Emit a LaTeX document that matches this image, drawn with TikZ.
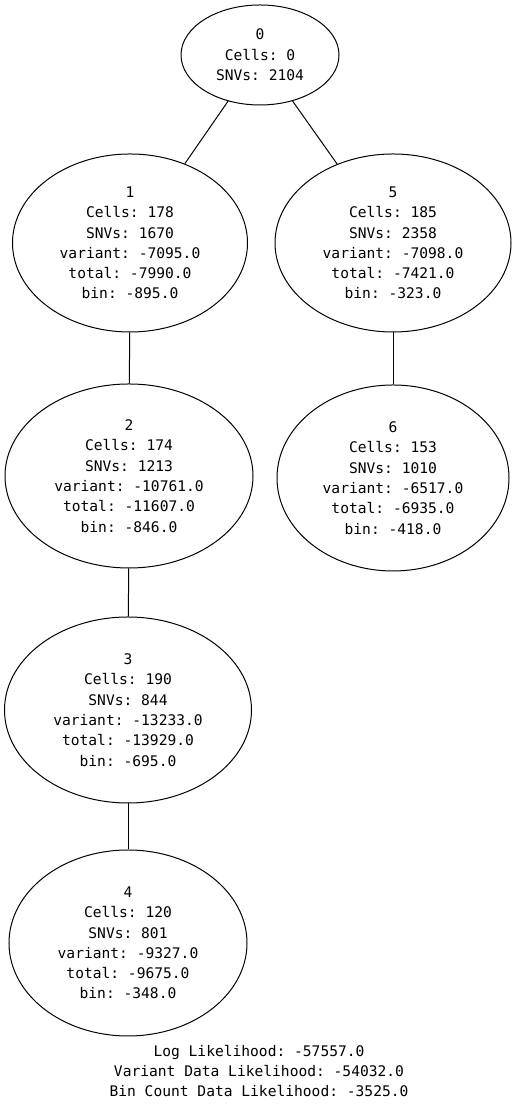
\documentclass[tikz,border=0pt]{standalone}
\usepackage{fontspec}
\setmonofont{DejaVu Sans Mono}
\usetikzlibrary{shapes.geometric}
\begin{document}
\begin{tikzpicture}[x=1pt,y=1pt,
  tnode/.style={draw=black, line width=1pt, ellipse, inner sep=0pt, align=center,
    font=\ttfamily\fontsize{14.6}{20.3}\selectfont},
  edge/.style={draw=black, line width=1pt},
  lbl/.style={align=center, font=\ttfamily\fontsize{14.6}{20.3}\selectfont}]
\useasboundingbox (0,0) rectangle (517,1107);
\node[tnode, minimum width=158, minimum height=100] (n0) at (260,1052) {0\\Cells: 0\\SNVs: 2104};
\node[tnode, minimum width=235, minimum height=178] (n1) at (130,864) {1\\Cells: 178\\SNVs: 1670\\variant: -7095.0\\total: -7990.0\\bin: -895.0};
\node[tnode, minimum width=236, minimum height=178] (n5) at (393,864) {5\\Cells: 185\\SNVs: 2358\\variant: -7098.0\\total: -7421.0\\bin: -323.0};
\node[tnode, minimum width=248, minimum height=184] (n2) at (129,631) {2\\Cells: 174\\SNVs: 1213\\variant: -10761.0\\total: -11607.0\\bin: -846.0};
\node[tnode, minimum width=232, minimum height=186] (n6) at (393,629) {6\\Cells: 153\\SNVs: 1010\\variant: -6517.0\\total: -6935.0\\bin: -418.0};
\node[tnode, minimum width=247, minimum height=186] (n3) at (128,397) {3\\Cells: 190\\SNVs: 844\\variant: -13233.0\\total: -13929.0\\bin: -695.0};
\node[tnode, minimum width=238, minimum height=186] (n4) at (128,164) {4\\Cells: 120\\SNVs: 801\\variant: -9327.0\\total: -9675.0\\bin: -348.0};
\node[lbl] (legend) at (259,36) {Log Likelihood: -57557.0\\Variant Data Likelihood: -54032.0\\Bin Count Data Likelihood: -3525.0};
\draw[edge] (n0) -- (n1);
\draw[edge] (n0) -- (n5);
\draw[edge] (n1) -- (n2);
\draw[edge] (n5) -- (n6);
\draw[edge] (n2) -- (n3);
\draw[edge] (n3) -- (n4);
\end{tikzpicture}
\end{document}
